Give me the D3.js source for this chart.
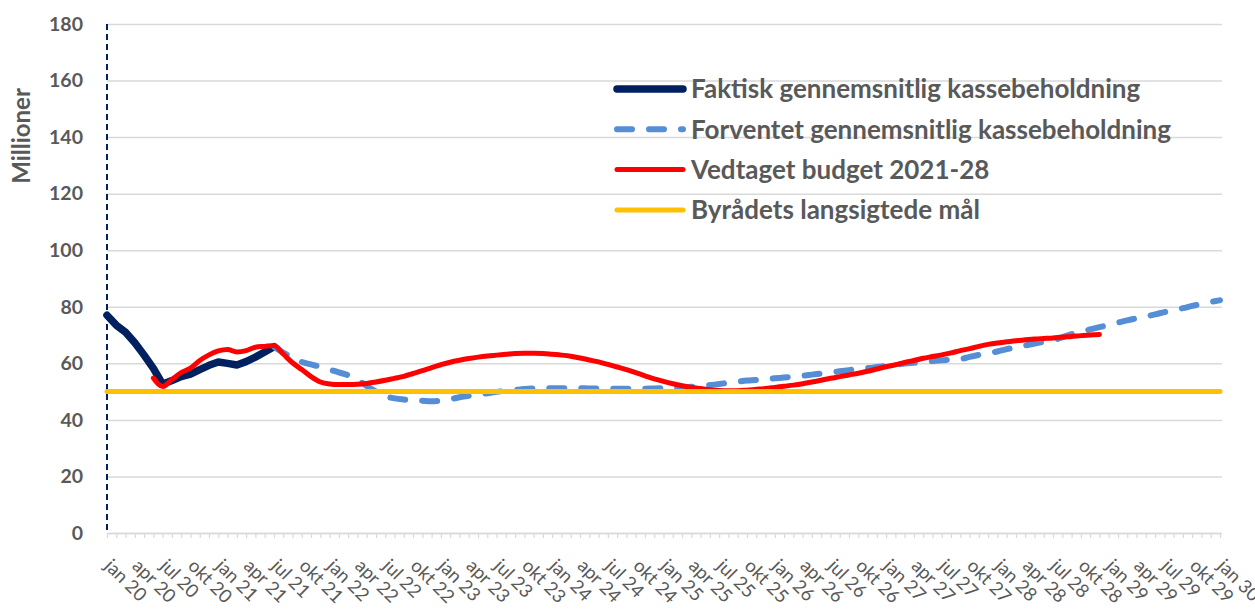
<!DOCTYPE html>
<html>
<head>
<meta charset="utf-8">
<script src="https://d3js.org/d3.v7.min.js"></script>
<title>kassebeholdning</title>
</head>
<style>
    body {
        margin: 0;
        background-color: white;
        font-family: Lato, 'Open Sans', sans-serif;
    }
</style>
<body>
<div id="chart"></div>
</body>
</html>

<script>
  // x axis labels, one per quarter (month 0 = jan 20 ... month 120 = jan 30)
  var tickLabels = [
      "jan 20", "apr 20", "jul 20", "okt 20", "jan 21", "apr 21", "jul 21", "okt 21",
      "jan 22", "apr 22", "jul 22", "okt 22", "jan 23", "apr 23", "jul 23", "okt 23",
      "jan 24", "apr 24", "jul 24", "okt 24", "jan 25", "apr 25", "jul 25", "okt 25",
      "jan 26", "apr 26", "jul 26", "okt 26", "jan 27", "apr 27", "jul 27", "okt 27",
      "jan 28", "apr 28", "jul 28", "okt 28", "jan 29", "apr 29", "jul 29", "okt 29",
      "jan 30"
  ];
  var yTicks = [0, 20, 40, 60, 80, 100, 120, 140, 160, 180];

  // Faktisk gennemsnitlig kassebeholdning, monthly from jan 20
  var faktiskStart = 0;
  var faktisk = [77, 73.5, 71, 67.3, 62.9, 58.2, 52.6, 53.9, 55.3, 56.2,
                 57.8, 59.3, 60.5, 60, 59.4, 60.6, 62.2, 64, 65.9];

  // Forventet gennemsnitlig kassebeholdning, monthly from jul 21
  var forventetStart = 18;
  var forventet = [65.9, 63.8, 62, 60.5, 59.6, 58.8, 57.8, 56.8, 55.8, 54.2,
                   52, 50, 48.4, 47.6, 47.2, 47, 46.8, 46.6, 46.8, 47.3,
                   48, 48.5, 49, 49.4, 49.9, 50.3, 50.6, 50.9, 51.1, 51.2,
                   51.2, 51.2, 51.2, 51.2, 51.1, 51.1, 51, 51, 51, 51,
                   51, 51.1, 51.2, 51.3, 51.5, 51.7, 52, 52.3, 52.7, 53.1,
                   53.5, 53.9, 54.1, 54.4, 54.7, 55, 55.3, 55.6, 56, 56.4,
                   56.8, 57.2, 57.6, 58, 58.3, 58.7, 59.1, 59.5, 59.9, 60.2,
                   60.5, 60.8, 61.1, 61.3, 61.5, 62.3, 63, 63.6, 64.2, 65,
                   65.7, 66.3, 67, 67.6, 68.2, 69.2, 70.3, 71.2, 72, 72.8,
                   73.6, 74.4, 75.2, 75.9, 76.6, 77.3, 78.1, 78.8, 79.5, 80.3,
                   81, 81.7, 82.3];

  // Vedtaget budget 2021-28, monthly from jun 20
  var budgetStart = 5;
  var budget = [54.8, 51.8, 54.3, 56.7, 58.3, 61, 63, 64.4, 64.9, 64,
                64.5, 65.7, 66, 66.3, 63.3, 60.2, 57.8, 55.3, 53.4, 52.7,
                52.5, 52.5, 52.6, 52.9, 53.4, 54, 54.7, 55.4, 56.4, 57.4,
                58.5, 59.5, 60.4, 61.1, 61.7, 62.2, 62.6, 62.9, 63.2, 63.5,
                63.6, 63.6, 63.5, 63.2, 62.9, 62.5, 61.9, 61.2, 60.5, 59.6,
                58.7, 57.8, 56.7, 55.6, 54.5, 53.6, 52.8, 52.1, 51.5, 51.1,
                50.7, 50.4, 50.3, 50.3, 50.5, 50.8, 51.1, 51.5, 51.9, 52.3,
                52.8, 53.4, 54, 54.7, 55.3, 55.9, 56.5, 57.2, 58, 58.8,
                59.5, 60.3, 61, 61.8, 62.4, 63, 63.7, 64.5, 65.2, 66,
                66.7, 67.2, 67.6, 68, 68.3, 68.6, 68.8, 69, 69.3, 69.5,
                69.8, 70, 70.2];

  // Byrådets langsigtede mål, flat from jan 20 to jan 30
  var maalValue = 50;
  var maalMonths = [0, 120];

  var legendNames = [
      "Faktisk gennemsnitlig kassebeholdning",
      "Forventet gennemsnitlig kassebeholdning",
      "Vedtaget budget 2021-28",
      "Byrådets langsigtede mål"
  ];

  var textColor = "#595959";
  var gridColor = "#d9d9d9";

  function toPoints(start, values) {
      return values.map(function (v, i) { return {m: start + i, v: v}; });
  }

  var series = [
      {name: legendNames[0], data: toPoints(faktiskStart, faktisk), color: "#002060", width: 7.5, dash: null, curve: d3.curveLinear},
      {name: legendNames[1], data: toPoints(forventetStart, forventet), color: "#558ed5", width: 6, dash: "15,17", curve: d3.curveMonotoneX},
      {name: legendNames[2], data: toPoints(budgetStart, budget), color: "#ff0000", width: 5, dash: null, curve: d3.curveMonotoneX},
      {name: legendNames[3], data: maalMonths.map(function (m) { return {m: m, v: maalValue}; }), color: "#ffc000", width: 5, dash: null, curve: d3.curveLinear}
  ];

  //SVG
  var svg = d3.select("#chart").append("svg")
      .attr("width", 1255)
      .attr("height", 610)
      .style("background-color", "white");

  var x = d3.scaleLinear().domain([0, 120]).range([107, 1220]);
  var y = d3.scaleLinear().domain([0, 180]).range([533, 24]);

  //GRID + Y AXIS
  var yAxis = svg.append("g")
      .attr("transform", "translate(" + x(0) + ",0)")
      .call(d3.axisLeft(y).tickValues(yTicks).tickSize(-(x(120) - x(0) + 2)).tickSizeOuter(0).tickPadding(24));

  yAxis.selectAll(".tick line")
      .attr("stroke", gridColor)
      .attr("stroke-width", 1.5);
  yAxis.selectAll(".tick text")
      .attr("fill", textColor)
      .style("font-size", "19.5px")
      .style("font-weight", "bold")
      .style("font-family", "Lato");
  yAxis.select(".domain").remove();

  //X AXIS (month ticks + quarter labels)
  var xAxis = svg.append("g")
      .attr("transform", "translate(0," + y(0) + ")")
      .call(d3.axisBottom(x).tickValues(d3.range(0, 121)).tickSize(5).tickSizeOuter(0).tickFormat(""));
  xAxis.select(".domain").attr("stroke", gridColor).attr("stroke-width", 1.5);
  xAxis.selectAll(".tick line").attr("stroke", gridColor).attr("stroke-width", 1.2);

  var labelAxis = svg.append("g")
      .attr("transform", "translate(0," + y(0) + ")")
      .call(d3.axisBottom(x)
          .tickValues(tickLabels.map(function (d, i) { return i * 3; }))
          .tickSize(0)
          .tickFormat(function (d) { return tickLabels[d / 3]; }));
  labelAxis.select(".domain").remove();
  labelAxis.selectAll(".tick text")
      .attr("fill", textColor)
      .attr("text-anchor", "start")
      .attr("x", 0)
      .attr("y", 0)
      .attr("dy", 0)
      .attr("transform", "translate(-4,34) rotate(45)")
      .style("font-size", "18.5px")
      .style("font-family", "Lato");

  // navy dashed vertical axis line
  svg.append("line")
      .attr("x1", x(0)).attr("x2", x(0))
      .attr("y1", y(180)).attr("y2", y(0))
      .attr("stroke", "#002060")
      .attr("stroke-width", 2)
      .attr("stroke-dasharray", "6,4");

  //Y TITLE
  svg.append("text")
      .attr("transform", "translate(30,136) rotate(-90)")
      .attr("text-anchor", "middle")
      .attr("fill", textColor)
      .style("font-size", "24px")
      .style("font-weight", "bold")
      .text("Millioner");

  //LINES
  series.forEach(function (s) {
      var line = d3.line()
          .x(function (d) { return x(d.m); })
          .y(function (d) { return y(d.v); })
          .curve(s.curve);
      svg.append("path")
          .attr("d", line(s.data))
          .attr("fill", "none")
          .attr("stroke", s.color)
          .attr("stroke-width", s.width)
          .attr("stroke-linecap", "round")
          .attr("stroke-linejoin", "round")
          .attr("stroke-dasharray", s.dash);
  });

  //LEGEND
  var legend = svg.selectAll(".legend")
      .data(series)
      .enter()
      .append("g")
      .attr("class", "legend")
      .attr("transform", function (d, i) { return "translate(617," + (89 + i * 40.3) + ")"; });

  legend.append("line")
      .attr("x1", 0).attr("x2", 66)
      .attr("stroke", function (d) { return d.color; })
      .attr("stroke-width", function (d) { return d.width; })
      .attr("stroke-linecap", "round")
      .attr("stroke-dasharray", function (d) { return d.dash; });

  legend.append("text")
      .attr("x", 74)
      .attr("dy", "0.36em")
      .attr("fill", textColor)
      .style("font-size", "26px")
      .style("font-weight", "bold")
      .text(function (d) { return d.name; });
</script>
